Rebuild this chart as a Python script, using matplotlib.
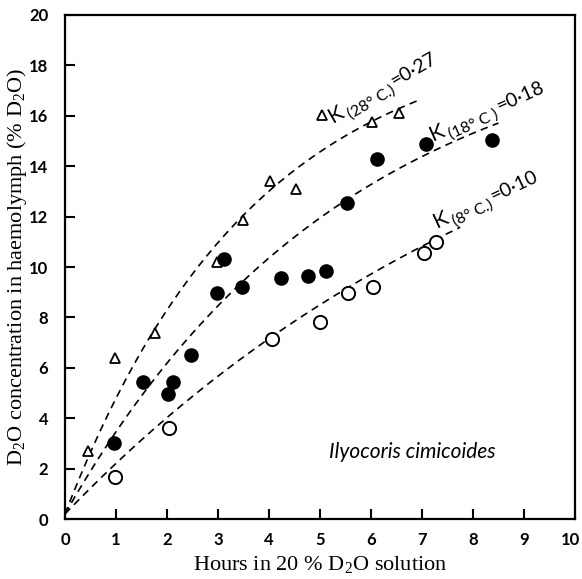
import numpy as np
import matplotlib
matplotlib.use("Agg")
import matplotlib.pyplot as plt
from matplotlib.transforms import offset_copy
from matplotlib.textpath import TextPath
from matplotlib.font_manager import FontProperties

plt.rcParams['mathtext.fontset'] = 'custom'
plt.rcParams['mathtext.rm'] = 'Liberation Serif'

# 28 deg C (open triangles)
t28 = [0.45, 0.98, 1.76, 2.98, 3.49, 4.02, 4.53, 5.04, 6.02, 6.55]
c28 = [2.7, 6.4, 7.4, 10.2, 11.85, 13.4, 13.1, 16.05, 15.75, 16.1]
# 18 deg C (filled circles)
t18 = [0.97, 1.53, 2.02, 2.12, 2.47, 2.98, 3.12, 3.47, 4.24, 4.76, 5.11, 5.52, 6.12, 7.08, 8.37]
c18 = [3.0, 5.45, 4.95, 5.45, 6.5, 8.95, 10.3, 9.2, 9.55, 9.65, 9.85, 12.55, 14.3, 14.9, 15.05]
# 8 deg C (open circles)
t8 = [0.98, 2.04, 4.06, 5.0, 5.55, 6.04, 7.04, 7.27]
c8 = [1.65, 3.6, 7.15, 7.8, 8.95, 9.2, 10.55, 11.0]

# rate constants written on the curves, plateau of each drawn curve, where it stops
K = [0.27, 0.18, 0.10]
K_sub = ['(28° C.)', '(18° C )', '(8° C.)']
K_txt = ['=0·27', '=0·18', '=0·10']
c_plateau = [19.6, 20.0, 21.3]
t_end = [6.9, 8.5, 7.75]
c_start = 0.2

fig = plt.figure(figsize=(5.82, 5.79), dpi=100)
ax = fig.add_axes([0.1117, 0.1036, 0.8763, 0.8705])

for k, a, te in zip(K, c_plateau, t_end):
    t = np.linspace(0, te, 200)
    c = c_start + (a - c_start) * (1 - np.exp(-k * t))
    ax.plot(t, c, color='black', lw=1.2, dashes=(4.5, 3.2), zorder=1)

ax.plot(t28, c28, '^', ms=7.5, mfc='white', mec='black', mew=1.3, ls='none', zorder=3)
ax.plot(t18, c18, 'o', ms=9.5, mfc='black', mec='black', ls='none', zorder=3)
ax.plot(t8, c8, 'o', ms=9.5, mfc='white', mec='black', mew=1.4, ls='none', zorder=3)

fp = FontProperties(family='Lato')


def k_label(x, y, ang, sub, rest):
    # K, a lowered subscript and the value, laid one after another along the angle
    a = np.radians(ang)
    u = 0.0
    for s, size, dv in [('K', 16, 0), (sub, 11.5, -4), (rest, 14, 0)]:
        tr = offset_copy(ax.transData, fig, x=u * np.cos(a) - dv * np.sin(a),
                         y=u * np.sin(a) + dv * np.cos(a), units='points')
        ax.text(x, y, s, fontsize=size, family='Lato', rotation=ang, transform=tr,
                rotation_mode='anchor', ha='left', va='baseline')
        u += TextPath((0, 0), s, size=size, prop=fp).get_extents().x1 + 2


k_label(5.25, 15.7, 30, K_sub[0], K_txt[0])
k_label(7.22, 15.0, 24, K_sub[1], K_txt[1])
k_label(7.29, 11.55, 25, K_sub[2], K_txt[2])

ax.text(6.8, 2.66, 'Ilyocoris cimicoides', fontsize=15, family='Lato', style='italic',
        ha='center', va='center')

ax.set_xlim(0, 10)
ax.set_ylim(0, 20)
ax.set_xticks(range(0, 11))
ax.set_yticks(range(0, 21, 2))
ax.tick_params(direction='in', length=7, width=1.5, labelsize=12)
ax.tick_params(axis='y', pad=12)
ax.tick_params(axis='x', pad=9)
for lbl in ax.get_xticklabels() + ax.get_yticklabels():
    lbl.set_family('Lato')
    lbl.set_fontweight('bold')
last = ax.get_xticklabels()[-1]
last.set_transform(offset_copy(last.get_transform(), fig, x=-3, y=0, units='points'))
for s in ax.spines.values():
    s.set_linewidth(1.6)

ax.set_xlabel(r'Hours in 20 % D$_{\mathrm{2}}$O solution', family='Liberation Serif',
              fontsize=16, labelpad=5)
ax.set_ylabel(r'D$_{\mathrm{2}}$O concentration in haemolymph (% D$_{\mathrm{2}}$O)',
              family='Liberation Serif', fontsize=16, labelpad=0)

fig.savefig('out.png', dpi=100)
